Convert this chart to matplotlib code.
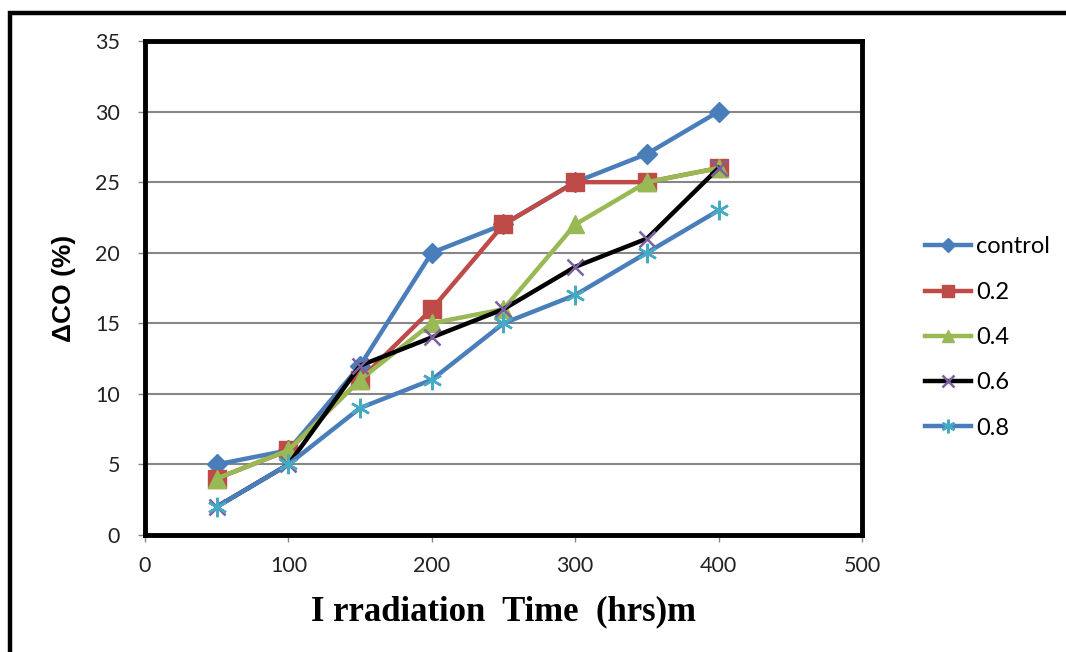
import matplotlib
matplotlib.use("Agg")
import matplotlib.pyplot as plt
from matplotlib.patches import Rectangle

# Irradiation time (hrs) and change in carbonyl index (%)
hours = [50, 100, 150, 200, 250, 300, 350, 400]
control = [5, 6, 12, 20, 22, 25, 27, 30]
c02 = [4, 6, 11, 16, 22, 25, 25, 26]
c04 = [4, 6, 11, 15, 16, 22, 25, 26]
c06 = [2, 5, 12, 14, 16, 19, 21, 26]
c08 = [2, 5, 9, 11, 15, 17, 20, 23]
labels = ["control", "0.2", "0.4", "0.6", "0.8"]

x_ticks = [0, 100, 200, 300, 400, 500]
y_ticks = [0, 5, 10, 15, 20, 25, 30, 35]

plt.rcParams["font.family"] = ["Lato", "DejaVu Sans"]

fig = plt.figure(figsize=(10.66, 6.52), dpi=100)
fig.patch.set_facecolor("white")

# outer chart border
fig.patches.append(Rectangle((10 / 1066, -0.05), 1.2, 1 - 13 / 652 + 0.05,
                             transform=fig.transFigure, fill=False,
                             edgecolor="black", linewidth=3.2, zorder=0))

ax = fig.add_axes([145 / 1066, 1 - 535 / 652, (862 - 145) / 1066, (535 - 41) / 652])

styles = [
    dict(color="#4A7EBB", marker="D", markersize=10, mfc="#4A7EBB", mec="#4A7EBB"),
    dict(color="#BE4B48", marker="s", markersize=13, mfc="#BE4B48", mec="#BE4B48"),
    dict(color="#98B954", marker="^", markersize=13, mfc="#98B954", mec="#98B954"),
    dict(color="black", marker="x", markersize=12, mfc="none", mec="#7D60A0", mew=1.8),
    dict(color="#4A7EBB", marker=(6, 2, 0), markersize=14, mfc="none", mec="#46AAC5", mew=1.8),
]
series = [control, c02, c04, c06, c08]
for vals, lab, st in zip(series, labels, styles):
    ax.plot(hours, vals, linewidth=3.2, label=lab, **st)

ax.set_xlim(0, 500)
ax.set_ylim(0, 35)
ax.set_xticks(x_ticks)
ax.set_yticks(y_ticks)
ax.tick_params(axis="both", labelsize=15.5, color="#868686", length=5, width=1,
               direction="out", labelcolor="#222222")
ax.tick_params(axis="y", pad=13)
ax.tick_params(axis="x", pad=10)
ax.yaxis.grid(True, color="#868686", linewidth=1.5)
ax.set_axisbelow(True)
for sp in ax.spines.values():
    sp.set_color("black")
    sp.set_linewidth(3.5)

ax.set_ylabel("ΔCO (%)", fontsize=19, fontweight="bold", labelpad=14,
              family=["Liberation Sans", "DejaVu Sans"])
ax.set_xlabel("I rradiation  Time  (hrs)m", fontsize=25, fontweight="bold",
              family=["Liberation Serif", "DejaVu Serif"], labelpad=14)

leg = ax.legend(loc="upper left", bbox_to_anchor=(916 / 1066, 1 - 227 / 652),
                bbox_transform=fig.transFigure, frameon=False, fontsize=17,
                labelspacing=1.03, handlelength=1.95, handletextpad=0.2,
                markerscale=0.7, borderaxespad=0)

fig.savefig("out.png", dpi=100, facecolor="white")
